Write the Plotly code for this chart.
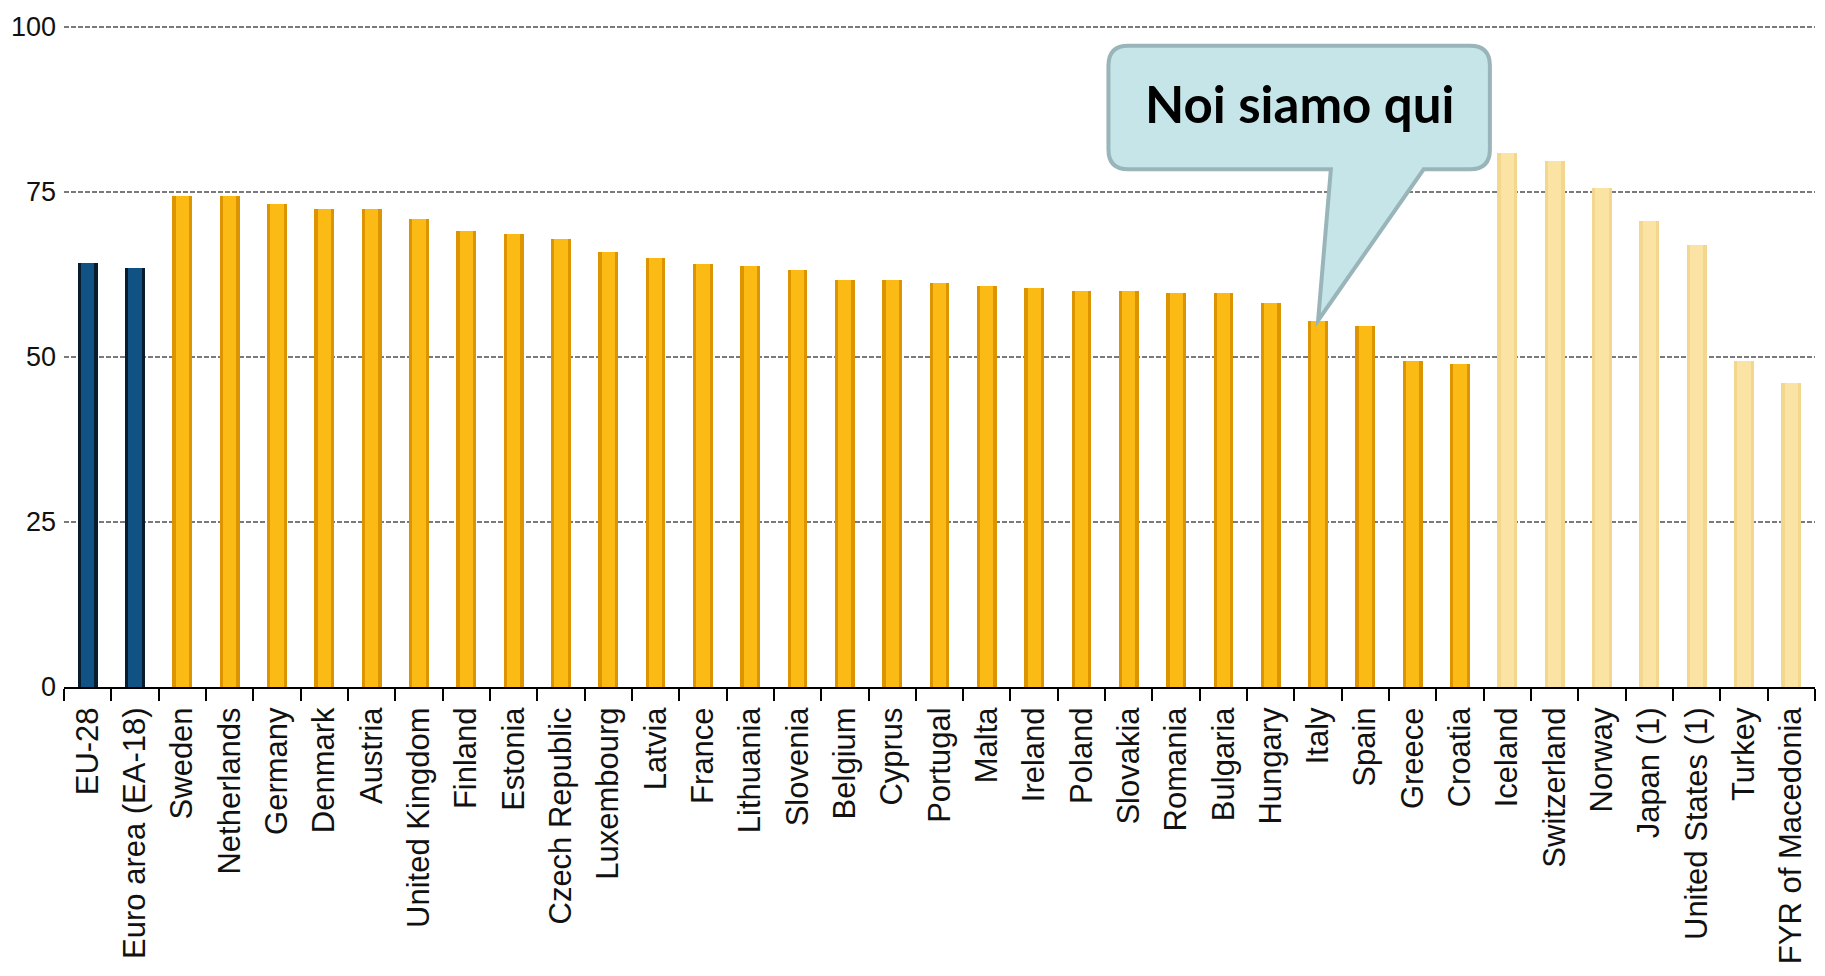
import plotly.graph_objects as go

# ---- data ----
aggregates = ["EU-28", "Euro area (EA-18)"]
aggregate_values = [64.2, 63.4]

eu_countries = ["Sweden", "Netherlands", "Germany", "Denmark", "Austria", "United Kingdom",
                "Finland", "Estonia", "Czech Republic", "Luxembourg", "Latvia", "France",
                "Lithuania", "Slovenia", "Belgium", "Cyprus", "Portugal", "Malta", "Ireland",
                "Poland", "Slovakia", "Romania", "Bulgaria", "Hungary", "Italy", "Spain",
                "Greece", "Croatia"]
eu_values = [74.4, 74.4, 73.2, 72.4, 72.4, 70.8, 69.0, 68.6, 67.8, 65.8, 64.9, 64.1,
             63.7, 63.2, 61.7, 61.7, 61.2, 60.8, 60.4, 60.0, 60.0, 59.6, 59.6, 58.2,
             55.5, 54.6, 49.3, 48.9]

other_countries = ["Iceland", "Switzerland", "Norway", "Japan (1)", "United States (1)",
                   "Turkey", "FYR of Macedonia"]
other_values = [80.8, 79.6, 75.5, 70.6, 66.9, 49.3, 46.0]

y_ticks = [0, 25, 50, 75, 100]
callout_text = "Noi siamo qui"
callout_country = "Italy"

categories = aggregates + eu_countries + other_countries

fig = go.Figure()

groups = [
    (aggregates, aggregate_values, "#081c30", "#0f5283"),
    (eu_countries, eu_values, "#dc9500", "#fcbb14"),
    (other_countries, other_values, "#f3d78f", "#fbe4a3"),
]
for names, vals, edge, center in groups:
    fig.add_trace(go.Bar(x=names, y=vals, width=0.42, marker=dict(color=edge, line=dict(width=0)),
                         showlegend=False, hoverinfo="x+y"))
    fig.add_trace(go.Bar(x=names, y=vals, width=0.28, marker=dict(color=center, line=dict(width=0)),
                         showlegend=False, hoverinfo="skip"))

# ---- callout (speech bubble) pointing at Italy ----
ix = categories.index(callout_country)
iv = eu_values[eu_countries.index(callout_country)]
x0, x1 = ix - 4.43, ix + 3.63      # box horizontal extent (category units)
y0, y1 = 78.4, 97.1                # box vertical extent (data units)
rx, ry = 0.42, 3.0                 # corner radius
tb_l, tb_r = ix + 0.27, ix + 2.23  # tail base
path = (f"M {x0+rx},{y1} L {x1-rx},{y1} Q {x1},{y1} {x1},{y1-ry} "
        f"L {x1},{y0+ry} Q {x1},{y0} {x1-rx},{y0} "
        f"L {tb_r},{y0} L {ix},{iv} L {tb_l},{y0} "
        f"L {x0+rx},{y0} Q {x0},{y0} {x0},{y0+ry} "
        f"L {x0},{y1-ry} Q {x0},{y1} {x0+rx},{y1} Z")
fig.add_shape(type="path", path=path, xref="x", yref="y",
              fillcolor="#c5e5e8", line=dict(color="#99b5b9", width=4), layer="above")
fig.add_annotation(x=(x0 + x1) / 2, y=(y0 + y1) / 2 + 0.6, xref="x", yref="y",
                   text=f"<b>{callout_text}</b>", showarrow=False,
                   font=dict(family="Lato, Open Sans, sans-serif", size=51, color="#000000"))

fig.update_layout(
    width=1809, height=960,
    margin=dict(l=56, r=2, t=16, b=281, autoexpand=False),
    paper_bgcolor="white", plot_bgcolor="white",
    barmode="overlay", bargap=0,
    showlegend=False,
)
fig.update_xaxes(
    type="category", categoryorder="array", categoryarray=categories,
    range=[-0.5, len(categories) - 0.5],
    tickangle=-90, tickson="boundaries", ticks="outside", ticklen=12, tickwidth=2, tickcolor="#000",
    showline=True, linecolor="#000", linewidth=2, showgrid=False, ticklabelstandoff=6,
    tickfont=dict(family="Liberation Sans, Arial, sans-serif", size=31, color="#111"),
    automargin=False,
)
fig.update_yaxes(
    range=[0, 100.4], tickvals=y_ticks, ticktext=[str(v) for v in y_ticks],
    showgrid=True, gridcolor="#7a7a7a", gridwidth=2, griddash="5px,2px",
    zeroline=False, showline=False, ticks="", ticklabelstandoff=7,
    tickfont=dict(family="Liberation Sans, Arial, sans-serif", size=27, color="#111"),
    automargin=False,
)

fig.write_html("out.html")
